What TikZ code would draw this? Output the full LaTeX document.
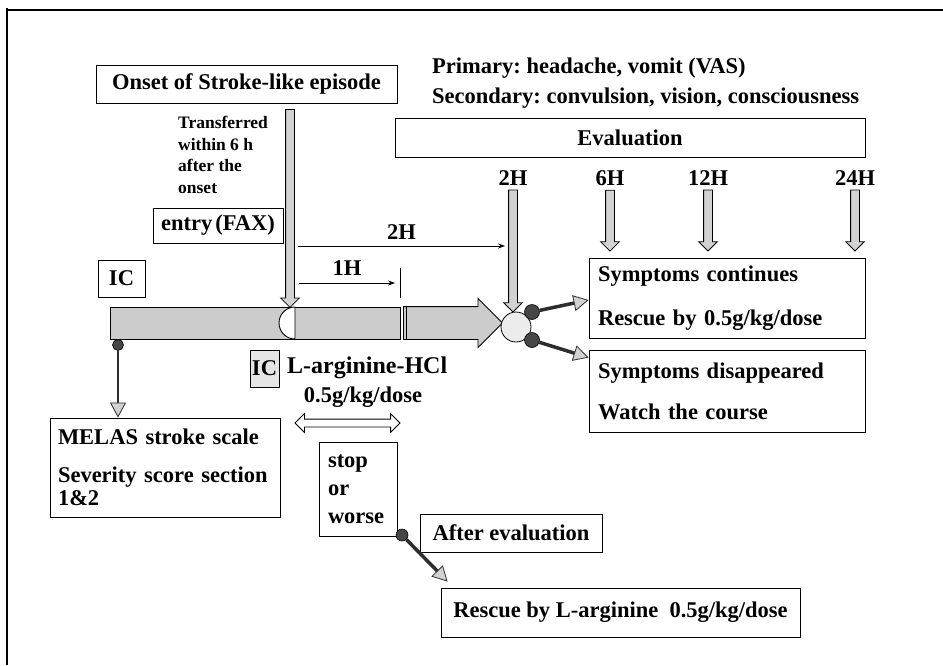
\documentclass[tikz,border=0pt]{standalone}
\usepackage{fontspec}
\setmainfont{Liberation Serif}
\usetikzlibrary{shapes.arrows,arrows.meta,positioning}
\frenchspacing
\newcommand\diagfont{\fontsize{22.5}{26}\selectfont\bfseries}
\newcommand\notefont{\fontsize{17.5}{21.5}\selectfont\bfseries}
\tikzset{
  framebox/.style={draw, line width=0.9pt, inner sep=0pt, font=\diagfont},
  textbox/.style={framebox, align=left, inner xsep=9pt},
  downarrow/.style={single arrow, draw, line width=0.8pt, fill=gray!35, rotate=-90,
    inner sep=4pt, single arrow head extend=5pt, anchor=tail},
  tipdot/.style={circle, draw, line width=0.6pt, fill=gray!55!black, inner sep=0pt, minimum size=#1},
  thickarrow/.style={draw=gray!35!black, line width=3.5pt,
    -{Triangle[length=15pt,width=16pt,fill=gray!35,line width=0.8pt]}},
  thinarrow/.style={line width=0.8pt, -{Stealth[length=7pt,width=5pt]}}
}
\begin{document}
\begin{tikzpicture}[x=1pt, y=-1pt]
  \useasboundingbox (0,0) rectangle (943,665);
  % Frame
  \draw[line width=1.2pt] (6,10) -- (943,10);
  \draw[line width=1.2pt] (7,8) -- (7,665);
  % Onset and criteria
  \node[framebox, minimum width=301pt, minimum height=38pt] (onset) at (246.5,84) {Onset of Stroke-like episode};
  \node[font=\diagfont, align=left, anchor=west, inner sep=0pt] (crit) at (432,83)
    {Primary: headache, vomit (VAS)\\[4pt]Secondary: convulsion, vision, consciousness};
  \node[framebox, minimum width=470pt, minimum height=39pt] (evalbox) at (630,138) {Evaluation};
  % Evaluation time points
  \foreach \t/\x in {2/513, 6/610, 12/708, 24/855}
    \node[font=\diagfont, inner sep=0pt] (t\t) at (\x,178) {\t H};
  \node[downarrow, minimum height=122pt] (a2) at ([yshift=-4pt]t2.south) {};
  \foreach \t in {6,12,24}
    \node[downarrow, minimum height=61pt] (a\t) at ([yshift=-4pt]t\t.south) {};
  % Transfer and entry
  \node[font=\notefont, align=left, anchor=north west, inner sep=0pt] (transfer) at (178,116)
    {Transferred\\within 6 h\\after the\\onset};
  \node[framebox, minimum width=130pt, minimum height=35pt] (entry) at (218,225.5) {entry\hspace{3pt}(FAX)\hspace{3pt}};
  \node[downarrow, minimum height=198pt] (aon) at (290,109) {};
  % Time bar
  \node[draw, line width=0.9pt, fill=gray!40, minimum width=290pt, minimum height=32pt, inner sep=0pt] (bar) at (255,323) {};
  \filldraw[fill=white, line width=0.9pt] (295,307) arc[start angle=-90, end angle=-270, radius=16] -- cycle;
  \node[single arrow, draw, line width=0.9pt, fill=gray!40, inner sep=16pt, single arrow head extend=8pt,
    minimum height=99pt, anchor=tail] (bar2) at (403,323) {};
  \draw[line width=0.9pt] (406,307) -- (406,339);
  % Intervals
  \coordinate (twoL) at (298,246);
  \coordinate (twoR) at (505,246);
  \draw[thinarrow] (twoL) -- node[above=6pt, font=\diagfont, inner sep=0pt] (lab2) {2H} (twoR);
  \coordinate (oneL) at (299,283);
  \coordinate (oneR) at (395,283);
  \draw[thinarrow] (oneL) -- node[above=7pt, font=\diagfont, inner sep=0pt] (lab1) {1H} (oneR);
  \draw[line width=0.8pt] (400,268) -- (400,298);
  % Judgement at 2H
  \node[circle, draw, line width=0.8pt, fill=gray!15, minimum size=30pt, inner sep=0pt] (judge) at (516,327) {};
  \node[tipdot=15pt] (dup) at (532,312) {};
  \node[tipdot=15pt] (ddown) at (532,340) {};
  \node[textbox, text width=258pt, minimum height=80pt] (cont) at (727,298)
    {Symptoms continues\\[18pt]Rescue by 0.5g/kg/dose};
  \node[textbox, text width=258pt, minimum height=82pt] (disap) at (727,391)
    {Symptoms disappeared\\[15pt]Watch the course};
  \draw[thickarrow] (dup) -- ([yshift=-2pt]cont.west);
  \draw[thickarrow] (ddown) -- ([yshift=-8pt]disap.north west);
  % Initial assessment
  \node[framebox, minimum width=47pt, minimum height=37pt] (ic) at (121.5,278.5) {IC};
  \node[tipdot=11pt] (mdot) at (118,345) {};
  \node[textbox, inner xsep=8pt, text width=214pt, minimum height=99pt] (melas) at (165,467.5)
    {MELAS stroke scale\\[12pt]Severity score section\\[-3pt]1\&2};
  \draw[thickarrow, line width=2.5pt] (mdot) -- (mdot |- melas.north);
  % Infusion
  \node[framebox, fill=gray!20, minimum width=29pt, minimum height=37pt] (ic2) at (264.5,368.5) {IC};
  \node[font=\fontsize{24}{26}\selectfont\bfseries, anchor=west, inner sep=0pt] (larg) at (287,368) {L-arginine-HCl};
  \node[font=\diagfont, inner sep=0pt] (dose) at (363,397) {0.5g/kg/dose};
  \node[double arrow, draw, line width=0.8pt, fill=white, inner sep=3.5pt, double arrow head extend=5.5pt,
    minimum height=105pt] (span) at (347.5,423) {};
  % Rescue branch
  \node[textbox, text width=60pt, minimum height=94pt] (stop) at (358,489) {stop\\[2pt]or\\[2pt]worse};
  \node[tipdot=12pt] (sdot) at (402,535) {};
  \node[framebox, minimum width=182pt, minimum height=38pt] (after) at (511,533) {After evaluation};
  \node[framebox, minimum width=359pt, minimum height=49pt] (rescue) at (620.5,612.5) {Rescue by L-arginine\ \ 0.5g/kg/dose};
  \draw[thickarrow] (sdot) -- ([xshift=7pt,yshift=6pt]rescue.north west);
\end{tikzpicture}
\end{document}
